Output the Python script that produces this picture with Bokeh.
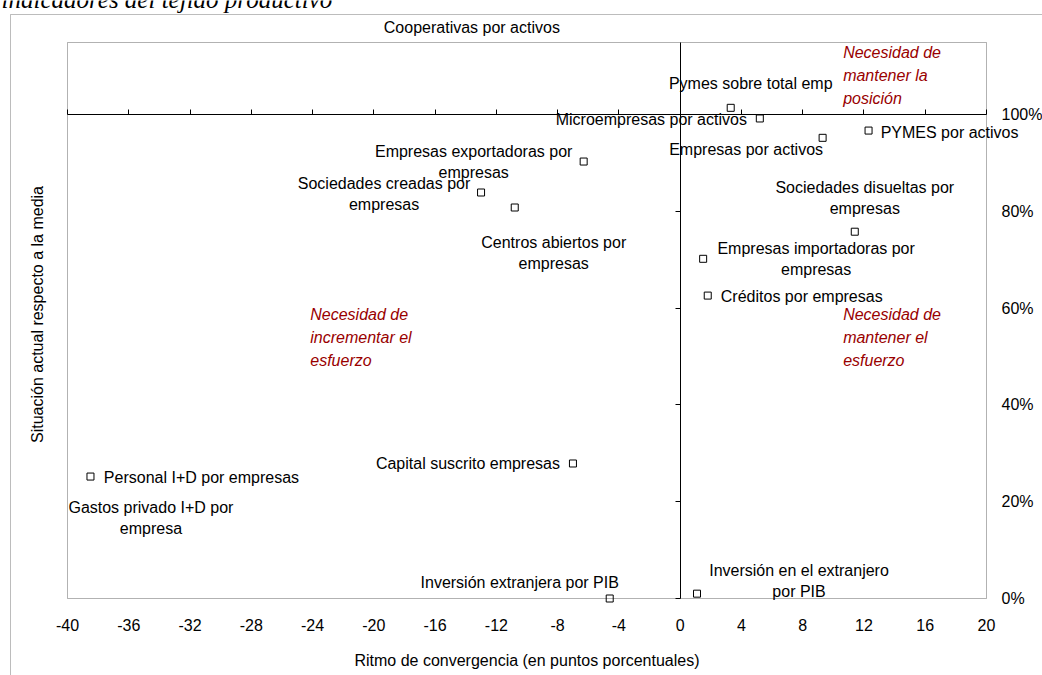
import math
from bokeh.plotting import figure
from bokeh.models import (Label, Range1d, FixedTicker, BoxAnnotation, LinearAxis,
                          NumeralTickFormatter)
from bokeh.core.properties import value
from bokeh.embed import file_html
from bokeh.resources import INLINE

# ---------------- data ----------------
names = [
    "Pymes sobre total emp",
    "Microempresas por activos",
    "Empresas por activos",
    "PYMES por activos",
    "Empresas exportadoras por\nempresas",
    "Sociedades creadas por\nempresas",
    "Centros abiertos por\nempresas",
    "Sociedades disueltas por\nempresas",
    "Empresas importadoras por\nempresas",
    "Créditos por empresas",
    "Personal I+D por empresas",
    "Capital suscrito empresas",
    "Inversión extranjera por PIB",
    "Inversión en el extranjero\npor PIB",
    "Gastos privado I+D por\nempresa",
    "Cooperativas por activos",
]
convergencia = [3.3, 5.2, 9.3, 12.3, -6.3, -13.0, -10.8, 11.4, 1.5, 1.8,
                -38.5, -7.0, -4.6, 1.1, -45.0, -13.6]
situacion = [1.014, 0.992, 0.952, 0.967, 0.903, 0.839, 0.808, 0.758, 0.702,
             0.626, 0.252, 0.279, 0.0, 0.010, 0.17, 1.25]

x_ticks = list(range(-40, 21, 4))
x_tick_labels = [str(t) for t in x_ticks]
y_ticks = [0.0, 0.2, 0.4, 0.6, 0.8, 1.0]

quadrant_texts = ["Necesidad de\nmantener la\nposición",
                  "Necesidad de\nincrementar el\nesfuerzo",
                  "Necesidad de\nmantener el\nesfuerzo"]
quadrant_x = [10.64, -24.15, 10.64]
quadrant_y = [1.081, 0.539, 0.539]

title_text = "indicadores del tejido productivo"
x_title = "Ritmo de convergencia (en puntos porcentuales)"
y_title = "Situación actual respecto a la media"

# ---------------- styling / layout ----------------
# label offsets in pixels (dx right, dy down) relative to each point
label_dx = [20, -108.5, -76.5, 81, -110, -97, 39, 10, 113, 94, 111, -105, -90, 102, 160, 0]
label_dy = [-24, 1, 12, 2, 0, 1, 45, -34, 0, 1, 1, 0, -16, -13, 2, 34]
LINE_H = 21

W, H = 1042, 675
# plot area inside the canvas (pixels)
PL, PR, PT, PB = 67, 986, 42, 598
X0, X1 = -40, 20
Y0, Y1 = 0.0, 1.149
px_x = (PR - PL) / (X1 - X0)
px_y = (PB - PT) / (Y1 - Y0)


def xd(px):
    return X0 + (px - PL) / px_x


def yd(py):
    return Y0 + (PB - py) / px_y


FONT = "Liberation Sans"
RED = "#990000"

p = figure(width=W, height=H, output_backend="svg", toolbar_location=None,
           x_range=Range1d(xd(0), xd(W)), y_range=Range1d(yd(H), yd(0)),
           x_axis_location=None, y_axis_location=None,
           min_border=0, min_border_left=0, min_border_right=0,
           min_border_top=0, min_border_bottom=0)
p.grid.visible = False
p.outline_line_color = None
p.background_fill_color = "white"
p.border_fill_color = "white"

# outer chart frame
p.add_layout(BoxAnnotation(left=xd(10), right=xd(3000), top=yd(14), bottom=yd(3000),
                           fill_color=None, fill_alpha=0, line_color="#222222",
                           line_width=1))
# plot area border
p.add_layout(BoxAnnotation(left=X0, right=X1, top=Y1, bottom=Y0,
                           fill_color=None, fill_alpha=0, line_color="black",
                           line_width=1))


def base_axis(axis):
    axis.axis_line_color = None
    axis.major_tick_line_color = None
    axis.minor_tick_line_color = None
    axis.major_tick_in = 0
    axis.major_tick_out = 0
    axis.major_label_text_font = FONT
    axis.major_label_text_font_size = "16px"
    axis.major_label_text_color = "black"
    return axis


# bottom tick labels
bx = base_axis(LinearAxis(fixed_location=Y0, bounds=(X0, X1),
                          ticker=FixedTicker(ticks=x_ticks)))
bx.major_label_overrides = {t: s for t, s in zip(x_ticks, x_tick_labels)}
bx.major_label_standoff = 20
p.add_layout(bx, "below")

# right tick labels (percent)
ry = base_axis(LinearAxis(fixed_location=X1, bounds=(Y0, Y1),
                          ticker=FixedTicker(ticks=y_ticks),
                          formatter=NumeralTickFormatter(format="0%")))
ry.major_label_standoff = 15
p.add_layout(ry, "right")

# crossing axis at 100% with ticks pointing up
hx = LinearAxis(fixed_location=1.0, bounds=(X0, X1), ticker=FixedTicker(ticks=x_ticks))
hx.axis_line_color = "black"
hx.major_tick_line_color = "black"
hx.minor_tick_line_color = None
hx.major_tick_in = 5
hx.major_tick_out = 0
hx.major_label_text_color = None
p.add_layout(hx, "below")

# crossing axis at 0 with ticks pointing left
vy = LinearAxis(fixed_location=0.0, bounds=(Y0, Y1), ticker=FixedTicker(ticks=y_ticks))
vy.axis_line_color = "black"
vy.major_tick_line_color = "black"
vy.minor_tick_line_color = None
vy.major_tick_in = 0
vy.major_tick_out = 5
vy.major_label_text_color = None
p.add_layout(vy, "left")

# points
p.scatter(convergencia, situacion, marker="square", size=7, fill_color="white",
          line_color="black", line_width=1)

# point labels, one row per text line
lx, ly, lt, ldx, ldy = [], [], [], [], []
for nm, xv, yv, dx, dy in zip(names, convergencia, situacion, label_dx, label_dy):
    lines = nm.split("\n")
    n = len(lines)
    for i, ln in enumerate(lines):
        lx.append(xv)
        ly.append(yv)
        lt.append(ln)
        ldx.append(dx)
        ldy.append(dy + (i - (n - 1) / 2) * LINE_H)
p.text(x=lx, y=ly, text=lt, x_offset=ldx, y_offset=ldy, text_align="center",
       text_baseline="middle", text_font=value(FONT), text_font_size=value("16px"),
       text_color="black")

# quadrant notes
for t, xx, yy in zip(quadrant_texts, quadrant_x, quadrant_y):
    p.add_layout(Label(x=xx, y=yy, text=t, text_align="left", text_baseline="middle",
                       text_font=FONT, text_font_size="16px", text_font_style="italic",
                       text_color=RED, text_line_height=1.35))

# axis titles
p.add_layout(Label(x=(X0 + X1) / 2, y=yd(660), text=x_title,
                   text_align="center", text_baseline="middle", text_font=FONT,
                   text_font_size="16px", text_color="black"))
p.add_layout(Label(x=xd(37), y=yd(314), text=y_title, angle=math.pi / 2,
                   text_align="center", text_baseline="middle", text_font=FONT,
                   text_font_size="16px", text_color="black"))

# title cut by the top edge
p.add_layout(Label(x=xd(1), y=yd(-1), text=title_text, text_align="left",
                   text_baseline="alphabetic", text_font="Liberation Serif",
                   text_font_style="italic", text_font_size="25px",
                   text_color="black"))

open("out.html", "w").write(file_html(p, INLINE))
